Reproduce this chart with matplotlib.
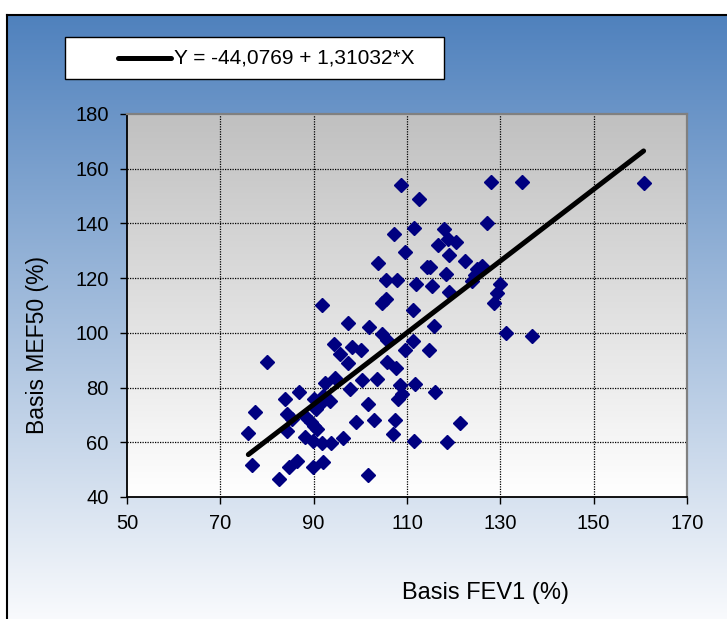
import numpy as np
import matplotlib
matplotlib.use("Agg")
import matplotlib.pyplot as plt
from matplotlib.patches import Rectangle
from matplotlib.lines import Line2D

plt.rcParams['font.family'] = ['Liberation Sans', 'DejaVu Sans']

##### DATA #####

fev1 = [79.9, 94.3, 95.7, 97.4, 98.3, 100.1, 104.6, 105.8, 105.8, 107.7,
        109.6, 92.5, 94.6, 97.8, 100.4, 103.5, 108.4, 108.1, 109.0, 111.8,
        86.8, 83.8, 90.0, 92.1, 93.5, 77.4, 84.3, 85.4, 88.2, 90.4,
        90.0, 90.7, 101.7, 99.0, 102.9, 107.5, 107.0, 111.5, 76.0, 84.2,
        88.2, 89.8, 91.8, 93.7, 96.2, 76.7, 84.7, 86.5, 89.8, 92.1,
        82.6, 101.7, 91.2, 89.5,
        108.8, 112.5, 128.1, 127.1, 107.3, 111.6, 118.0, 116.6, 118.8, 120.6,
        119.1, 109.5, 122.5, 103.8, 114.3, 115.0, 118.4, 125.0, 126.1, 123.9,
        105.6, 107.9, 111.9, 115.4, 118.9, 130.0, 129.3, 128.6, 104.6, 105.6,
        91.8, 111.2, 97.4, 101.9, 115.7, 131.2, 111.3, 124.5,
        134.6, 160.7, 136.7,
        114.7, 115.9, 121.4, 118.6]

mef50 = [89.3, 96.0, 92.1, 89.1, 94.9, 93.9, 99.4, 97.3, 89.5, 87.3,
         93.8, 81.8, 83.6, 79.6, 82.8, 83.0, 81.0, 75.8, 77.5, 81.2,
         78.2, 76.0, 76.0, 77.0, 75.2, 70.9, 70.3, 68.5, 69.5, 72.1,
         66.1, 64.8, 73.9, 67.3, 68.2, 68.2, 63.0, 60.6, 63.4, 64.2,
         61.8, 60.6, 59.8, 59.8, 61.5, 51.8, 50.9, 53.3, 50.9, 52.7,
         46.4, 48.2, 73.5, 67.5,
         154.0, 148.8, 155.1, 140.3, 136.0, 138.4, 138.0, 132.0, 134.4, 133.2,
         128.4, 129.5, 126.2, 125.6, 124.0, 124.2, 121.6, 123.2, 124.4, 118.9,
         119.5, 119.3, 118.0, 117.1, 114.9, 117.7, 114.6, 111.0, 110.8, 112.2,
         110.0, 108.2, 103.7, 102.2, 102.6, 99.9, 96.9, 121.0,
         155.2, 154.6, 98.8,
         93.9, 78.4, 67.0, 60.0]

# Regression shown in the legend
intercept = -44.0769
slope     = 1.31032
fitLabel  = "Y = -44,0769 + 1,31032*X"

xTicks = [50, 70, 90, 110, 130, 150, 170]
yTicks = [40, 60, 80, 100, 120, 140, 160, 180]

##### FIGURE #####

W, H = 727, 619
fig = plt.figure(figsize=(W / 100, H / 100), dpi=100)
fig.patch.set_facecolor("white")

def px(x0, y0, x1, y1):
    return [x0 / W, 1 - y1 / H, (x1 - x0) / W, (y1 - y0) / H]

# Blue to white background with border on top/left
bg = fig.add_axes(px(7, 15, W + 5, H + 5), zorder=0)
topC = np.array([79, 129, 189]) / 255
botC = np.array([250, 251, 253]) / 255
t = np.linspace(0, 1, 256)[:, None]
grad = (topC * (1 - t) + botC * t)[:, None, :]
bg.imshow(grad, aspect="auto", extent=[0, 1, 0, 1], origin="upper")
bg.set_xlim(0, 1)
bg.set_ylim(0, 1)
bg.set_xticks([])
bg.set_yticks([])
for s in ["right", "bottom"]:
    bg.spines[s].set_visible(False)
for s in ["left", "top"]:
    bg.spines[s].set_color("black")
    bg.spines[s].set_linewidth(1.5)

# Plot area
ax = fig.add_axes(px(127, 114, 687, 497), zorder=2)
ax.set_xlim(50, 170)
ax.set_ylim(40, 180)
g1 = np.array([192, 192, 192]) / 255
g2 = np.array([255, 255, 255]) / 255
grayGrad = (g1 * (1 - t) + g2 * t)[:, None, :]
ax.imshow(grayGrad, aspect="auto", extent=[50, 170, 40, 180], origin="upper", zorder=0)

for xv in xTicks[1:-1]:
    ax.axvline(xv, color="black", lw=0.9, ls=(0, (1, 1)), zorder=1)
for yv in yTicks[1:-1]:
    ax.axhline(yv, color="black", lw=0.9, ls=(0, (1, 1)), zorder=1)

ax.plot(fev1, mef50, ls="none", marker="D", ms=7.5, color="#000080",
        markeredgecolor="#000080", zorder=3)

xFit = np.array([min(fev1), max(fev1)])
ax.plot(xFit, intercept + slope * xFit, color="black", lw=3.6,
        solid_capstyle="round", zorder=4)

ax.set_xticks(xTicks)
ax.set_yticks(yTicks)
ax.tick_params(direction="out", length=4.8, width=1, color="black",
               labelsize=14.5, pad=8.5)
ax.tick_params(axis="x", pad=7.5)
for s in ["left", "bottom"]:
    ax.spines[s].set_color("black")
    ax.spines[s].set_linewidth(1.3)
for s in ["top", "right"]:
    ax.spines[s].set_color("#808080")
    ax.spines[s].set_linewidth(1.6)

# Axis titles
fig.text(38 / W, 1 - 345 / H, "Basis MEF50 (%)", rotation=90,
         ha="center", va="center", fontsize=16.5, zorder=5)
fig.text(485 / W, 1 - 593 / H, "Basis FEV1 (%)",
         ha="center", va="center", fontsize=17, zorder=5)

# Legend box
fig.patches.append(Rectangle((65 / W, 1 - 79 / H), 379 / W, 42 / H,
                             transform=fig.transFigure, facecolor="white",
                             edgecolor="black", lw=1, zorder=5))
fig.lines.append(Line2D([118 / W, 171 / W], [1 - 58 / H, 1 - 58 / H],
                        transform=fig.transFigure, color="black", lw=3.6,
                        solid_capstyle="round", zorder=6))
fig.text(174 / W, 1 - 58 / H, fitLabel, ha="left", va="center",
         fontsize=15, zorder=6)

fig.savefig("out.png", dpi=100)
